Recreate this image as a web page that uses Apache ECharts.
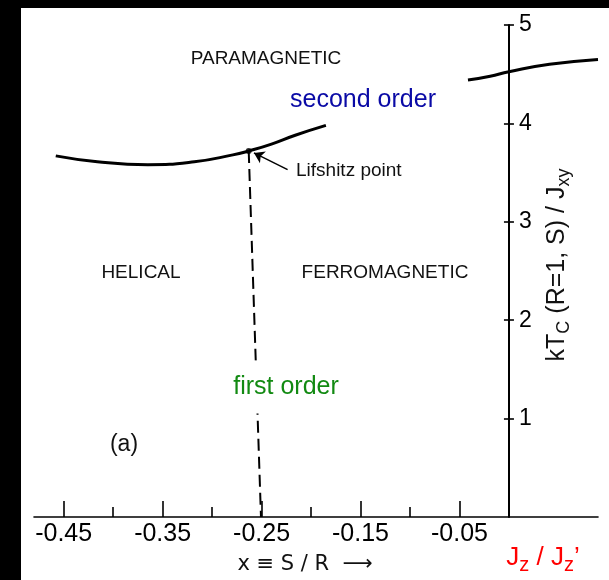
<!DOCTYPE html>
<html><head><meta charset="utf-8">
<script src="https://cdn.jsdelivr.net/npm/echarts@6/dist/echarts.min.js"></script>
<style>html,body{margin:0;padding:0;background:#fff}#c{width:609px;height:580px}</style>
</head><body><div id="c"></div>
<script>
// ---- data ----
const secondOrderLeft = [[-0.458,3.67],[-0.416,3.61],[-0.365,3.58],[-0.318,3.61],[-0.279,3.68],[-0.263,3.72],[-0.240,3.79],[-0.216,3.88],[-0.185,3.98]];
const secondOrderRight = [[-0.0414,4.44],[-0.019,4.48],[0,4.525],[0.041,4.60],[0.09,4.65]];
const firstOrder = [[-0.263,3.72],[-0.2506,0]];
const lifshitzPoint = [[-0.263,3.72]];
const lifshitzArrow = [[-0.2237,3.53],[-0.2577,3.70]];
const xMajorTicks = [-0.45,-0.35,-0.25,-0.15,-0.05];
const xMajorLabels = ['-0.45','-0.35','-0.25','-0.15','-0.05'];
const xMinorTicks = [-0.40,-0.30,-0.20,-0.10];
const yTicks = [1,2,3,4,5];
const yTickLabels = ['1','2','3','4','5'];

const FONT = 'Liberation Sans';
const X_MIN = -0.48, X_MAX = 0.09, GRID_LEFT = 34, GRID_RIGHT = 11;
const chart = echarts.init(document.getElementById('c'));
// y axis sits at x = 0 : shift it from the grid's left edge by the scale
const gridW = 609 - GRID_LEFT - GRID_RIGHT;
const yOffset = -(0 - X_MIN) / (X_MAX - X_MIN) * gridW;
const xBase = {type:'value', min:X_MIN, max:X_MAX, splitLine:{show:false}};
const yBase = {type:'value', min:0, max:5, interval:1, splitLine:{show:false}, offset:yOffset};
chart.setOption({
  animation:false,
  backgroundColor:'#fff',
  grid:{left:GRID_LEFT, right:GRID_RIGHT, top:25, bottom:63, outerBoundsMode:'none', containLabel:false},
  xAxis:[
    Object.assign({}, xBase, {position:'bottom',
      axisLine:{show:true, onZero:false, lineStyle:{color:'#000', width:1.6}},
      axisTick:{show:true, inside:true, length:16, customValues:xMajorTicks, lineStyle:{color:'#000', width:1.6}},
      axisLabel:{show:true, margin:5, customValues:xMajorTicks, color:'#000', fontFamily:FONT, fontSize:25,
        formatter:function(v){const i=xMajorTicks.findIndex(t=>Math.abs(t-v)<1e-9);return i>=0?xMajorLabels[i]:'';}}
    }),
    Object.assign({}, xBase, {position:'bottom',
      axisLine:{show:false, onZero:false},
      axisTick:{show:true, inside:true, length:10, customValues:xMinorTicks, lineStyle:{color:'#000', width:1.6}},
      axisLabel:{show:false}
    })
  ],
  yAxis:[
    Object.assign({}, yBase, {position:'left',
      axisLine:{show:true, onZero:false, lineStyle:{color:'#000', width:2}},
      axisTick:{show:true, inside:true, length:5, customValues:yTicks, lineStyle:{color:'#000', width:1.6}},
      axisLabel:{show:true, inside:true, margin:10, customValues:yTicks, color:'#000', fontFamily:FONT, fontSize:23,
        formatter:function(v){const i=yTicks.indexOf(v);return i>=0?yTickLabels[i]:'';}}
    }),
    Object.assign({}, yBase, {position:'left',
      axisLine:{show:false, onZero:false},
      axisTick:{show:true, inside:false, length:5, customValues:yTicks, lineStyle:{color:'#000', width:1.6}},
      axisLabel:{show:false}
    })
  ],
  series:[
    {type:'line', name:'second order (left)', data:secondOrderLeft, xAxisIndex:0, yAxisIndex:0, smooth:true, symbol:'none',
      lineStyle:{color:'#000', width:3}},
    {type:'line', name:'second order (right)', data:secondOrderRight, xAxisIndex:0, yAxisIndex:0, smooth:true, symbol:'none',
      lineStyle:{color:'#000', width:3}},
    {type:'line', name:'first order', data:firstOrder, xAxisIndex:0, yAxisIndex:0, symbol:'none',
      lineStyle:{color:'#000', width:2, type:[12,6]}},
    {type:'scatter', name:'Lifshitz point', data:lifshitzPoint, xAxisIndex:0, yAxisIndex:0, symbolSize:6,
      itemStyle:{color:'#000'}, z:3,
      markLine:{silent:true, symbol:['none','arrow'], symbolSize:10, label:{show:false}, z:5,
        lineStyle:{color:'#000', width:1.5, type:'solid'},
        data:[[{coord:lifshitzArrow[0]},{coord:lifshitzArrow[1]}]]}}
  ],
  graphic:[
    {type:'text', z:50, x:266, y:59, style:{text:'PARAMAGNETIC', font:'19px '+FONT, fill:'#111', align:'center', verticalAlign:'middle'}},
    {type:'text', z:50, x:363, y:100, style:{text:'second order', font:'25px '+FONT, fill:'#0A0AA6', align:'center', verticalAlign:'middle'}},
    {type:'text', z:50, x:141, y:273, style:{text:'HELICAL', font:'19px '+FONT, fill:'#111', align:'center', verticalAlign:'middle'}},
    {type:'text', z:50, x:385, y:273, style:{text:'FERROMAGNETIC', font:'19px '+FONT, fill:'#111', align:'center', verticalAlign:'middle'}},
    {type:'text', z:50, x:286, y:387, style:{text:'first order', font:'25px '+FONT, fill:'#128A12', align:'center', verticalAlign:'middle',
      backgroundColor:'#fff', padding:[14,4]}},
    {type:'text', z:50, x:124, y:445, style:{text:'(a)', font:'23px '+FONT, fill:'#111', align:'center', verticalAlign:'middle'}},
    {type:'text', z:50, x:296, y:171, style:{text:'Lifshitz point', font:'19px '+FONT, fill:'#111', align:'left', verticalAlign:'middle'}},
    {type:'text', z:50, x:305, y:565, style:{text:'x ≡ S / R  ⟶', font:'21px DejaVu Sans', fill:'#111', align:'center', verticalAlign:'middle'}},
    {type:'text', z:50, x:543, y:558, style:{text:'{m|J}{s|z}{m| / J}{s|z}{m|’}', align:'center', verticalAlign:'middle', fill:'#f00',
      rich:{m:{fontSize:26, fontFamily:FONT, fill:'#f00', color:'#f00'}, s:{fontSize:20, fontFamily:FONT, fill:'#f00', color:'#f00', padding:[15,0,0,0]}}}},
    {type:'text', z:50, x:557, y:265, rotation:Math.PI/2, style:{text:'{m|kT}{s|C}{m| (R=1, S) / J}{s|xy}', align:'center', verticalAlign:'middle', fill:'#111',
      rich:{m:{fontSize:25, fontFamily:FONT, fill:'#111'}, s:{fontSize:18, fontFamily:FONT, fill:'#111', padding:[14,0,0,0]}}}},
    {type:'rect', z:100, shape:{x:0, y:0, width:21, height:580}, style:{fill:'#000'}},
    {type:'rect', z:100, shape:{x:0, y:0, width:609, height:8}, style:{fill:'#000'}}
  ]
});
</script></body></html>
